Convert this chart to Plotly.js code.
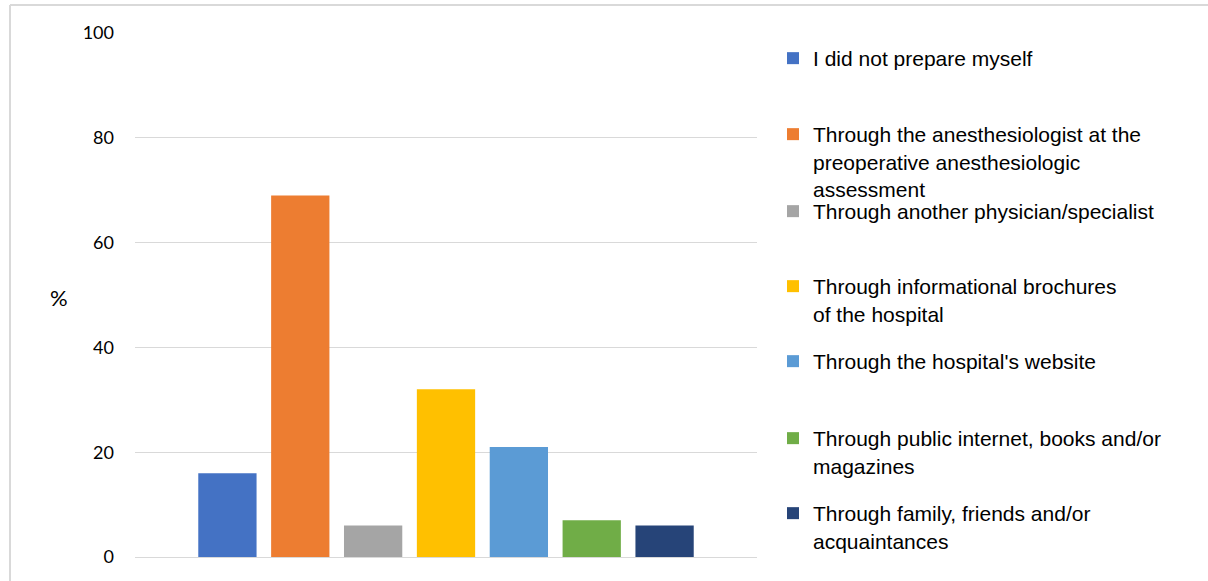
<!DOCTYPE html>
<html>
<head>
<meta charset="utf-8">
<script src="https://cdn.plot.ly/plotly-3.0.1.min.js"></script>
<style>
html,body{margin:0;padding:0;background:#fff;}
#chart{width:1208px;height:581px;}
</style>
</head>
<body>
<div id="chart"></div>
<script>
const categories = [
  "I did not prepare myself",
  "Through the anesthesiologist at the<br>preoperative anesthesiologic<br>assessment",
  "Through another physician/specialist",
  "Through informational brochures<br>of the hospital",
  "Through the hospital's website",
  "Through public internet, books and/or<br>magazines",
  "Through family, friends and/or<br>acquaintances"
];
const values = [16, 69, 6, 32, 21, 7, 6];
const colors = ["#4472C4", "#ED7D31", "#A5A5A5", "#FFC000", "#5B9BD5", "#70AD47", "#264478"];
const yTicks = [0, 20, 40, 60, 80, 100];

// pixel geometry of the plot area
const L = 135, R = 757, T = 33, B = 557;
const legendIds = categories.map((c, i) => i === 0 ? "legend" : "legend" + (i + 1));
const legendFirstLineY = [58, 134, 211, 286, 361, 438, 513];

const traces = categories.map((c, i) => ({
  type: "bar",
  x: ["g"],
  y: [values[i]],
  name: c,
  legend: legendIds[i],
  marker: {color: colors[i]},
  hoverinfo: "skip"
}));

const layout = {
  width: 1208, height: 581,
  margin: {l: L, r: 1208 - R, t: T, b: 581 - B},
  paper_bgcolor: "#fff", plot_bgcolor: "#fff",
  barmode: "group", bargap: 0.18, bargroupgap: 0.2,
  showlegend: true,
  xaxis: {showticklabels: false, showgrid: false, zeroline: false, showline: false, fixedrange: true},
  yaxis: {
    range: [0, 100], tickvals: yTicks, ticktext: yTicks.map(String),
    showgrid: true, gridcolor: "#d9d9d9", gridwidth: 1,
    zeroline: true, zerolinecolor: "#d9d9d9", zerolinewidth: 1,
    showline: false, ticks: "", ticklabelstandoff: 20,
    tickfont: {family: "Lato, Carlito, sans-serif", size: 18, color: "#000"}
  },
  annotations: [{
    text: "%", xref: "paper", yref: "paper",
    x: (48 - L) / (R - L), y: (B - 297) / (B - T), showarrow: false,
    font: {family: "Lato, sans-serif", size: 22, color: "#000"}
  }],
  shapes: [
    {type: "line", xref: "paper", yref: "paper", x0: (10 - L) / (R - L), x1: (1208 - L) / (R - L),
     y0: 1 + (T - 5) / (B - T), y1: 1 + (T - 5) / (B - T), line: {color: "#d9d9d9", width: 2}},
    {type: "line", xref: "paper", yref: "paper", x0: (10 - L) / (R - L), x1: (10 - L) / (R - L),
     y0: 1 + (T - 5) / (B - T), y1: (B - 585) / (B - T), line: {color: "#d9d9d9", width: 2}}
  ]
};

legendIds.forEach((id, i) => {
  layout[id] = {
    x: (773 - L) / (R - L),
    y: (B - (legendFirstLineY[i] - 20)) / (B - T),
    xanchor: "left", yanchor: "top",
    font: {family: "Liberation Sans, Arial, sans-serif", size: 21, color: "#000"},
    valign: "top", bgcolor: "rgba(0,0,0,0)"
  };
});

Plotly.newPlot("chart", traces, layout, {displayModeBar: false, staticPlot: true});
</script>
</body>
</html>
